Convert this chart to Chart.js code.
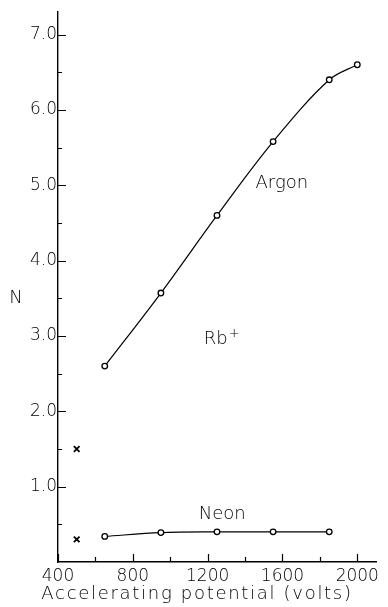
<!DOCTYPE html>
<html>
<head>
<meta charset="utf-8">
<script src="https://cdn.jsdelivr.net/npm/chart.js@4/dist/chart.umd.min.js"></script>
<style>
  html, body { margin: 0; padding: 0; background: #fff; }
  #c { display: block; }
</style>
</head>
<body>
<canvas id="c" width="388" height="607"></canvas>
<script>
// ---- data ----
const argonX = [650, 950, 1250, 1550, 1850, 2000];
const argonY = [2.6, 3.57, 4.6, 5.58, 6.4, 6.6];
const neonX  = [650, 950, 1250, 1550, 1850];
const neonY  = [0.34, 0.39, 0.40, 0.40, 0.40];
const rbX    = [500, 500];
const rbY    = [1.5, 0.3];
const xTickValues = [400, 600, 800, 1000, 1200, 1400, 1600, 1800, 2000];
const xMajorTicks = [400, 800, 1200, 1600, 2000];
const yTickValues = [0.5, 1, 1.5, 2, 2.5, 3, 3.5, 4, 4.5, 5, 5.5, 6, 6.5, 7];
const yMajorTicks = [1, 2, 3, 4, 5, 6, 7];
const xTitle = 'Accelerating potential (volts)';
const yTitle = 'N';
const labels = [
  { text: 'Argon', x: 1456, y: 4.97 },
  { text: 'Neon',  x: 1152, y: 0.57 },
  { text: 'Rb',    x: 1179, y: 2.89, sup: '+' }
];

const INK = '#000';
const FONT = '"DejaVu Sans", sans-serif';

const toPts = (xs, ys) => xs.map((x, i) => ({ x: x, y: ys[i] }));

const inwardTicks = {
  id: 'inwardTicks',
  afterDraw(chart) {
    const { ctx, chartArea, scales } = chart;
    const xs = scales.x, ys = scales.y;
    ctx.save();
    ctx.strokeStyle = INK;
    ctx.lineWidth = 1.2;
    ctx.beginPath();
    xs.ticks.forEach(t => {
      const px = Math.round(xs.getPixelForValue(t.value)) + 0.5;
      const len = xMajorTicks.includes(t.value) ? 8 : 5;
      ctx.moveTo(px, chartArea.bottom);
      ctx.lineTo(px, chartArea.bottom - len);
    });
    ys.ticks.forEach(t => {
      const py = Math.round(ys.getPixelForValue(t.value)) + 0.5;
      const len = yMajorTicks.includes(t.value) ? 8 : 4;
      ctx.moveTo(chartArea.left, py);
      ctx.lineTo(chartArea.left + len, py);
    });
    ctx.stroke();

    // axis titles
    ctx.fillStyle = INK;
    ctx.font = '200 18px ' + FONT;
    ctx.textAlign = 'center';
    ctx.textBaseline = 'alphabetic';
    ctx.letterSpacing = '1.7px';
    ctx.fillText(xTitle, 197, 599);
    ctx.letterSpacing = '0px';
    ctx.fillText(yTitle, 16, 303);

    // curve labels
    ctx.textAlign = 'left';
    labels.forEach(l => {
      const px = xs.getPixelForValue(l.x);
      const py = ys.getPixelForValue(l.y);
      ctx.font = '200 18px ' + FONT;
      ctx.fillText(l.text, px, py);
      if (l.sup) {
        const w = ctx.measureText(l.text).width;
        ctx.font = '200 13px ' + FONT;
        ctx.fillText(l.sup, px + w + 1, py - 7);
      }
    });
    ctx.restore();
  }
};

new Chart(document.getElementById('c'), {
  type: 'scatter',
  data: {
    datasets: [
      {
        label: 'Argon',
        data: toPts(argonX, argonY),
        showLine: true,
        tension: 0.35,
        borderColor: INK,
        borderWidth: 1.2,
        pointStyle: 'circle',
        pointRadius: 2.8,
        pointBorderWidth: 1.3,
        pointBackgroundColor: '#fff',
        pointBorderColor: INK
      },
      {
        label: 'Neon',
        data: toPts(neonX, neonY),
        showLine: true,
        tension: 0.35,
        borderColor: INK,
        borderWidth: 1.2,
        pointStyle: 'circle',
        pointRadius: 2.8,
        pointBorderWidth: 1.3,
        pointBackgroundColor: '#fff',
        pointBorderColor: INK
      },
      {
        label: 'Rb+',
        data: toPts(rbX, rbY),
        showLine: false,
        pointStyle: 'crossRot',
        pointRadius: 4,
        pointBorderWidth: 1.8,
        pointBorderColor: INK
      }
    ]
  },
  options: {
    responsive: false,
    animation: false,
    devicePixelRatio: 1,
    layout: { padding: { top: 12, right: 12, left: 0, bottom: 0 } },
    plugins: { legend: { display: false }, tooltip: { enabled: false } },
    scales: {
      x: {
        type: 'linear',
        min: 400,
        max: 2100,
        afterBuildTicks: s => { s.ticks = xTickValues.map(v => ({ value: v })); },
        afterFit: s => { s.height = 45; },
        grid: { display: false, drawTicks: false },
        border: { display: true, color: INK, width: 1.4 },
        ticks: {
          padding: 4,
          maxRotation: 0,
          autoSkip: false,
          color: INK,
          font: { family: FONT, size: 17, weight: 200 },
          callback: v => xMajorTicks.includes(v) ? String(v) : ''
        }
      },
      y: {
        type: 'linear',
        min: 0,
        max: 7.3,
        afterBuildTicks: s => { s.ticks = yTickValues.map(v => ({ value: v })); },
        afterFit: s => { s.width = 58; },
        grid: { display: false, drawTicks: false },
        border: { display: true, color: INK, width: 1.4 },
        ticks: {
          padding: 1,
          autoSkip: false,
          color: INK,
          font: { family: FONT, size: 17, weight: 200 },
          callback: v => yMajorTicks.includes(v) ? v.toFixed(1) : ''
        }
      }
    }
  },
  plugins: [inwardTicks]
});
</script>
</body>
</html>
